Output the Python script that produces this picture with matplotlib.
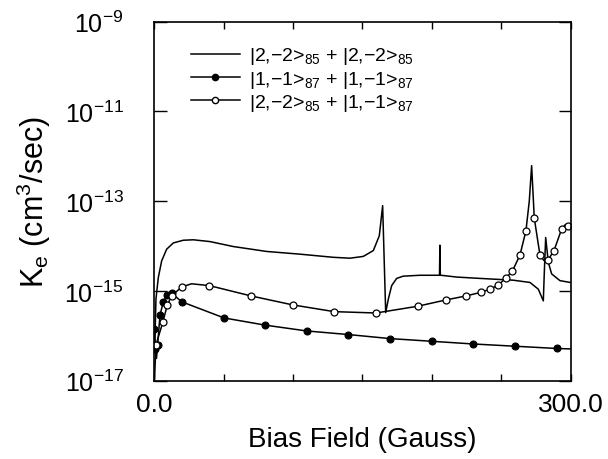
"""Elastic rate coefficient K_e vs bias field for three collision channels."""
import numpy as np
import matplotlib
matplotlib.use("Agg")
import matplotlib.pyplot as plt
from matplotlib.lines import Line2D

# |2,-2>85 + |2,-2>85 (plain line), log10 of K_e
b_22 = [0.5, 1.4, 3.1, 5.5, 9.1, 13.9, 21.1, 28.3, 40.3, 57.0, 81.1, 105.0, 129.0,
        141.0, 150.6, 157.8, 162.1, 164.5, 165.6, 166.7, 168.6, 171.0, 174.6, 179.3,
        191.4, 204.5, 205.4, 205.7, 206.0, 206.5, 217.8, 234.5, 258.5, 270.5, 276.5,
        280.1, 280.8, 281.8, 283.7, 286.1, 292.1, 299.5]
k_22 = [-16.3, -15.18, -14.70, -14.33, -14.07, -13.93, -13.87, -13.86, -13.90, -14.01,
        -14.12, -14.18, -14.25, -14.27, -14.23, -14.10, -13.77, -13.10, -14.3, -15.48,
        -15.18, -14.88, -14.72, -14.67, -14.65, -14.65, -14.65, -13.98, -14.65, -14.65,
        -14.69, -14.72, -14.76, -14.81, -14.96, -15.22, -14.6, -13.81, -14.36, -14.62,
        -14.77, -14.81]

# |1,-1>87 + |1,-1>87 (filled circles)
b_11 = [0.3, 1.0, 1.8, 2.6, 4.3, 6.7, 9.6, 12.7, 19.9, 50.4, 79.9, 109.9, 139.8,
        169.8, 199.8, 229.7, 259.7, 289.7, 299.5]
k_11 = [-15.85, -16.3, -16.5, -16.2, -15.54, -15.24, -15.09, -15.05, -15.24, -15.60,
        -15.76, -15.89, -15.97, -16.06, -16.12, -16.18, -16.23, -16.28, -16.29]
b_11_mk = [0.3, 1.0, 2.6, 4.3, 6.7, 9.6, 12.7, 19.9, 50.4, 79.9, 109.9, 139.8,
           169.8, 199.8, 229.7, 259.7, 289.7]
k_11_mk = [-15.85, -16.3, -16.2, -15.54, -15.24, -15.09, -15.05, -15.24, -15.60,
           -15.76, -15.89, -15.97, -16.06, -16.12, -16.18, -16.23, -16.28]

# |2,-2>85 + |1,-1>87 (open circles)
b_21 = [0.4, 1.4, 6.3, 9.6, 12.7, 19.9, 27.0, 39.8, 69.8, 99.8, 129.7, 159.7, 189.7,
        209.9, 224.5, 235.2, 241.7, 247.7, 253.2, 257.8, 263.3, 267.6, 270.0, 271.7,
        273.6, 277.7, 280.5, 283.7, 287.8, 293.3, 296.0, 299.5]
k_21 = [-16.95, -16.20, -15.70, -15.31, -15.11, -14.91, -14.84, -14.88, -15.11,
        -15.31, -15.46, -15.49, -15.34, -15.20, -15.11, -15.03, -14.96, -14.87, -14.71,
        -14.56, -14.20, -13.66, -13.0, -12.21, -13.38, -14.20, -14.32, -14.30, -14.10,
        -13.62, -13.52, -13.55]
b_21_mk = [1.4, 6.3, 9.6, 12.7, 19.9, 39.8, 69.8, 99.8, 129.7, 159.7, 189.7, 209.9,
           224.5, 235.2, 241.7, 247.7, 253.2, 257.8, 263.3, 267.6, 273.6, 277.7, 283.7,
           287.8, 293.3, 298.1]
k_21_mk = [-16.20, -15.70, -15.31, -15.11, -14.91, -14.88, -15.11, -15.31, -15.46,
           -15.49, -15.34, -15.20, -15.11, -15.03, -14.96, -14.87, -14.71, -14.56,
           -14.20, -13.66, -13.38, -14.20, -14.30, -14.10, -13.62, -13.55]

labels = [r"|2,$-$2>$_{85}$ + |2,$-$2>$_{85}$",
          r"|1,$-$1>$_{87}$ + |1,$-$1>$_{87}$",
          r"|2,$-$2>$_{85}$ + |1,$-$1>$_{87}$"]

plt.rcParams.update({
    "font.family": ["Liberation Sans", "DejaVu Sans"],
    "mathtext.fontset": "custom",
    "mathtext.rm": "Liberation Sans",
    "mathtext.it": "Liberation Sans:italic",
    "mathtext.bf": "Liberation Sans:bold",
})


def tenpow(a):
    return 10.0 ** np.asarray(a, dtype=float)


fig = plt.figure(figsize=(6.08, 4.6), dpi=100)
ax = fig.add_axes([0.2533, 0.170, 0.6858, 0.781])

lw = 1.1
ax.plot(b_22, tenpow(k_22), color="black", lw=lw)
ax.plot(b_11, tenpow(k_11), color="black", lw=lw)
ax.plot(b_11_mk, tenpow(k_11_mk), "o", color="black", ms=5.0, mew=0.8)
ax.plot(b_21, tenpow(k_21), color="black", lw=lw)
ax.plot(b_21_mk, tenpow(k_21_mk), "o", mfc="white", mec="black", ms=5.0, mew=0.9)

ax.set_yscale("log")
ax.set_xlim(0, 300)
ax.set_ylim(1e-17, 1e-9)

ax.set_xticks([0, 50, 100, 150, 200, 250, 300])
ax.set_xticklabels(["0.0", "", "", "", "", "", "300.0"])
ax.set_yticks([1e-17, 1e-15, 1e-13, 1e-11, 1e-9])
ax.set_yticklabels([r"10$^{-17}$", r"10$^{-15}$", r"10$^{-13}$", r"10$^{-11}$", r"10$^{-9}$"])
ax.minorticks_off()
ax.tick_params(axis="x", direction="in", length=5, width=1.0, top=True,
               labelsize=19, pad=8)
ax.tick_params(axis="y", direction="in", length=9, width=1.0, right=True,
               labelsize=18, pad=22)
for sp in ax.spines.values():
    sp.set_linewidth(1.2)

ax.set_xlabel("Bias Field (Gauss)", fontsize=20, labelpad=7)
ax.set_ylabel(r"K$_\mathrm{e}$ (cm$^3$/sec)", fontsize=22, labelpad=8)

handles = [
    Line2D([], [], color="black", lw=lw),
    Line2D([], [], color="black", lw=lw, marker="o", ms=4.5, markevery=[0, -1]),
    Line2D([], [], color="black", lw=lw, marker="o", mfc="white", mec="black",
           ms=4.5, markevery=[0, -1]),
]
ax.legend(handles, labels, loc="upper left", bbox_to_anchor=(0.07, 0.955),
          frameon=False, fontsize=14, handlelength=2.5, handletextpad=0.5,
          labelspacing=0.12, borderaxespad=0)

fig.savefig("out.png", dpi=100)
